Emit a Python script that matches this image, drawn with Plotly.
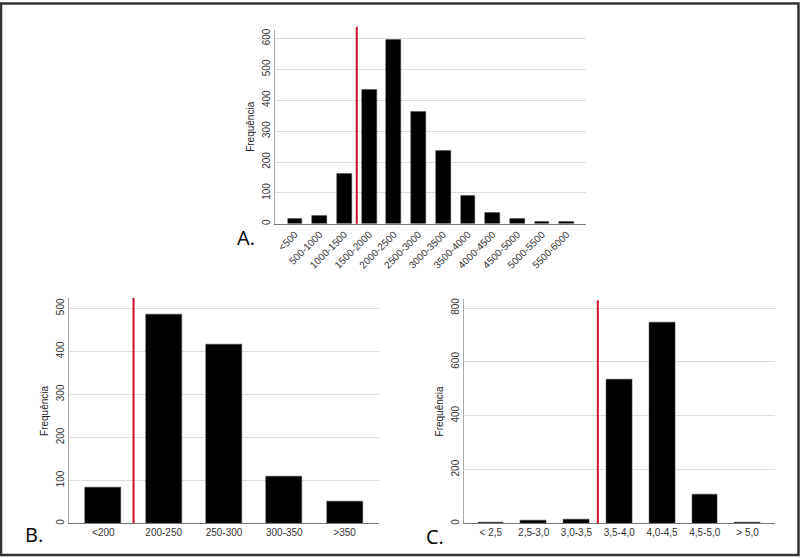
import plotly.graph_objects as go

# painel A - peso (g)
cat_a = ["<500", "500-1000", "1000-1500", "1500-2000", "2000-2500", "2500-3000",
         "3000-3500", "3500-4000", "4000-4500", "4500-5000", "5000-5500", "5500-6000"]
freq_a = [16, 27, 161, 434, 597, 361, 237, 92, 34, 16, 5, 5]
corte_a = 2.5

# painel B
cat_b = ["<200", "200-250", "250-300", "300-350", ">350"]
freq_b = [83, 485, 416, 110, 52]
corte_b = 0.5

# painel C
cat_c = ["< 2,5", "2,5-3,0", "3,0-3,5", "3,5-4,0", "4,0-4,5", "4,5-5,0", "> 5,0"]
freq_c = [3, 10, 16, 535, 748, 107, 4]
corte_c = 2.5

W, H = 800, 558
tick_font = dict(family="Arial, Liberation Sans", size=10, color="#333")

fig = go.Figure()

# (categorias, valores, corte, eixo, dominio x, dominio y, faixa x, faixa y, topo da linha vermelha)
paineis = [
    (cat_a, freq_a, corte_a, "", [275, 586], [223, 28], [-0.81, 11.78], [0, 628], 25, [0, 100, 200, 300, 400, 500, 600]),
    (cat_b, freq_b, corte_b, "2", [69, 379], [524.3, 298], [-0.57, 4.57], [0, 523], 297.5, [0, 100, 200, 300, 400, 500]),
    (cat_c, freq_c, corte_c, "3", [464.3, 775], [524.3, 299], [-0.62, 6.64], [0, 832], 300, [0, 200, 400, 600, 800]),
]

for cats, vals, corte, n, xd, yd, xr, yr, topo, ticks in paineis:
    fig.add_trace(go.Bar(
        x=list(range(len(cats))), y=vals,
        xaxis="x" + n, yaxis="y" + n,
        width=0.6,
        marker=dict(color="black", line=dict(color="#444", width=0.5)),
        showlegend=False,
    ))
    fig.update_layout({
        "xaxis" + n: dict(
            domain=[xd[0] / W, xd[1] / W], range=xr, anchor="y" + n,
            tickmode="array", tickvals=list(range(len(cats))), ticktext=cats,
            tickangle=-45 if n == "" else 0,
            showgrid=False, zeroline=False,
            showline=True, linecolor="#777", linewidth=1,
            ticks="", tickfont=tick_font,
        ),
        "yaxis" + n: dict(
            domain=[(H - yd[0]) / H, (H - yd[1]) / H], range=yr, anchor="x" + n,
            tickmode="array", tickvals=ticks, tickangle=-90,
            showgrid=True, gridcolor="#dcdcdc", gridwidth=1, zeroline=False,
            showline=True, linecolor="#aaa", linewidth=1,
            ticks="", tickfont=tick_font,
            title=dict(text="Frequência", font=dict(family="Arial, Liberation Sans", size=10, color="#222"), standoff=4),
        ),
    })
    # linha vermelha de corte
    fig.add_shape(type="line", xref="x" + n, yref="paper",
                  x0=corte, x1=corte, y0=(H - yd[0]) / H, y1=(H - topo) / H,
                  line=dict(color="#c8102e", width=2))

# rotulos dos paineis (canto esquerdo)
for txt, x, y in [("A.", 235, 237), ("B.", 23, 535), ("C.", 424, 537)]:
    fig.add_annotation(text=txt, xref="paper", yref="paper", x=x / W, y=(H - y) / H,
                       xanchor="left", yanchor="middle", showarrow=False,
                       font=dict(family="Open Sans", size=20, color="black"))

# moldura
fig.add_shape(type="rect", xref="paper", yref="paper",
              x0=1 / W, x1=798.5 / W, y0=2 / H, y1=(H - 1.5) / H,
              line=dict(color="#333", width=2.5))

fig.update_layout(
    width=W, height=H,
    margin=dict(l=0, r=0, t=0, b=0),
    paper_bgcolor="white", plot_bgcolor="white",
    bargap=0,
)

# tira a margem do body pra figura ficar no canto
fig.write_html("out.html", config={"displayModeBar": False},
               post_script="document.body.style.margin='0';document.body.style.overflow='hidden';")
